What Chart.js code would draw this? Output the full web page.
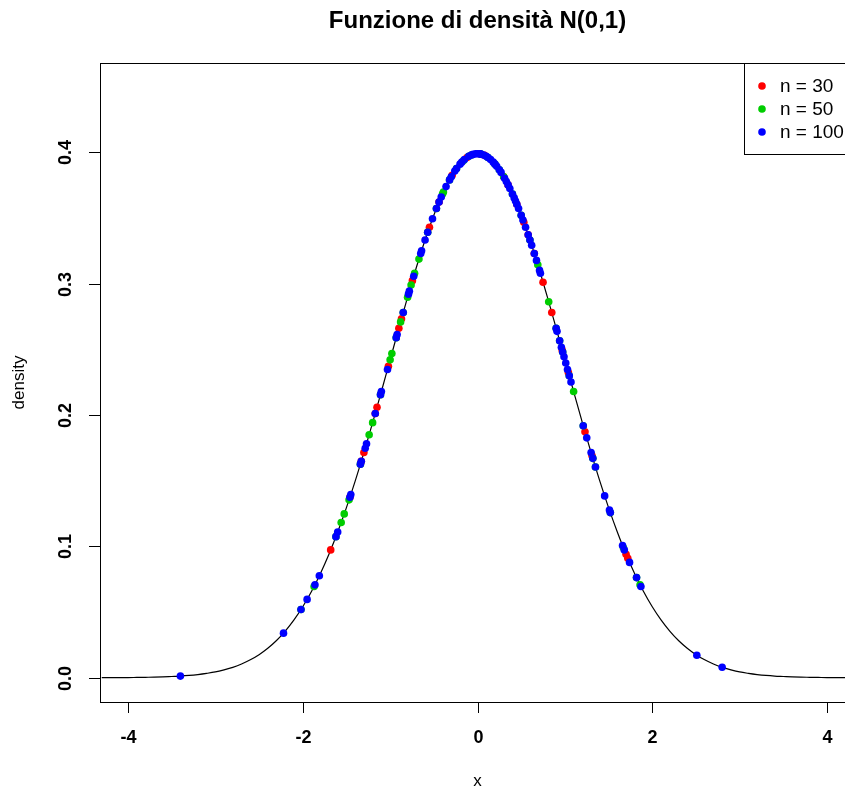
<!DOCTYPE html>
<html>
<head>
<meta charset="utf-8">
<script src="https://cdn.jsdelivr.net/npm/chart.js@4/dist/chart.umd.min.js"></script>
<style>
html,body{margin:0;padding:0;overflow:hidden;background:#fff;width:845px;height:791px;}
canvas{display:block;}
</style>
</head>
<body>
<canvas id="c" width="900" height="791" style="width:900px;height:791px"></canvas>
<script>
// ---- data ----
const titleText = "Funzione di densità N(0,1)";
const xTicks = [-4, -2, 0, 2, 4];
const yTicks = [0.0, 0.1, 0.2, 0.3, 0.4];
const yTickLabels = ["0.0", "0.1", "0.2", "0.3", "0.4"];
const legendLabels = ["n = 30", "n = 50", "n = 100"];

const curveX = [-4.3,-4.2,-4.1,-4.0,-3.9,-3.8,-3.7,-3.6,-3.5,-3.4,-3.3,-3.2,-3.1,-3.0,-2.9,-2.8,-2.7,-2.6,-2.5,-2.4,-2.3,-2.2,-2.1,-2.0,-1.9,-1.8,-1.7,-1.6,-1.5,-1.4,-1.3,-1.2,-1.1,-1.0,-0.9,-0.8,-0.7,-0.6,-0.5,-0.4,-0.3,-0.2,-0.1,0.0,0.1,0.2,0.3,0.4,0.5,0.6,0.7,0.8,0.9,1.0,1.1,1.2,1.3,1.4,1.5,1.6,1.7,1.8,1.9,2.0,2.1,2.2,2.3,2.4,2.5,2.6,2.7,2.8,2.9,3.0,3.1,3.2,3.3,3.4,3.5,3.6,3.7,3.8,3.9,4.0,4.1,4.2,4.3];
const curveY = [0.0000,0.0001,0.0001,0.0001,0.0002,0.0003,0.0004,0.0006,0.0009,0.0012,0.0017,0.0024,0.0033,0.0044,0.0060,0.0079,0.0104,0.0136,0.0175,0.0224,0.0283,0.0355,0.0440,0.0540,0.0656,0.0790,0.0940,0.1109,0.1295,0.1497,0.1714,0.1942,0.2179,0.2420,0.2661,0.2897,0.3123,0.3332,0.3521,0.3683,0.3814,0.3910,0.3970,0.3989,0.3970,0.3910,0.3814,0.3683,0.3521,0.3332,0.3123,0.2897,0.2661,0.2420,0.2179,0.1942,0.1714,0.1497,0.1295,0.1109,0.0940,0.0790,0.0656,0.0540,0.0440,0.0355,0.0283,0.0224,0.0175,0.0136,0.0104,0.0079,0.0060,0.0044,0.0033,0.0024,0.0017,0.0012,0.0009,0.0006,0.0004,0.0003,0.0002,0.0001,0.0001,0.0001,0.0000];

const n30X = [-1.68,-1.33,-1.30,-1.17,-1.15,-0.90,-0.87,-0.745,-0.44,-0.29,0.08,0.45,0.53,0.65,0.75,0.85,0.97,1.23,1.70,1.72,-1.46,-0.55,-0.12,0.02,0.35,1.04,1.31,0.58,-1.02,0.30];
const n30Y = [0.0973,0.1647,0.1714,0.2012,0.2059,0.2661,0.2733,0.3023,0.3621,0.3825,0.3977,0.3605,0.3467,0.3230,0.3011,0.2780,0.2492,0.1872,0.0940,0.0909,0.1374,0.3429,0.3961,0.3989,0.3752,0.2323,0.1691,0.3372,0.2371,0.3814];

const n50X = [-1.87,-1.56,-1.525,-1.47,-1.24,-1.20,-1.00,-0.98,-0.93,-0.88,-0.80,-0.76,-0.67,-0.40,-0.39,-0.24,-0.10,-0.07,0.20,0.30,0.60,0.815,0.94,0.975,1.10,1.32,1.86,-2.02,-1.62,-1.34,-1.11,-0.85,-0.57,-0.47,-0.32,-0.16,0.04,0.12,0.25,0.40,0.50,0.69,0.90,1.05,1.21,1.35,1.52,1.67,1.82,-0.72];
const n50Y = [0.0694,0.1182,0.1247,0.1354,0.1850,0.1942,0.2420,0.2468,0.2589,0.2709,0.2897,0.2989,0.3187,0.3683,0.3697,0.3876,0.3970,0.3980,0.3910,0.3814,0.3332,0.2862,0.2565,0.2480,0.2179,0.1670,0.0707,0.0519,0.1074,0.1626,0.2155,0.2780,0.3391,0.3572,0.3790,0.3938,0.3986,0.3961,0.3867,0.3683,0.3521,0.3144,0.2661,0.2299,0.1918,0.1604,0.1257,0.0989,0.0762,0.3079];

const n100X = [-3.40,-2.22,-2.02,-1.95,-1.86,-1.81,-1.62,-1.60,-1.46,-1.45,-1.34,-1.33,-1.285,-1.27,-1.11,-1.10,-1.03,-0.93,-0.92,-0.85,-0.79,-0.78,-0.73,-0.65,-0.64,-0.57,-0.515,-0.47,-0.44,-0.415,-0.32,-0.30,-0.26,-0.20,-0.18,-0.15,-0.10,-0.07,-0.05,-0.02,0.00,0.03,0.04,0.07,0.10,0.12,0.15,0.18,0.20,0.22,0.25,0.27,0.31,0.33,0.35,0.37,0.40,0.42,0.435,0.47,0.50,0.52,0.55,0.58,0.60,0.62,0.675,0.71,0.72,0.90,0.91,0.94,0.96,0.975,0.99,1.03,1.05,1.07,1.21,1.25,1.30,1.32,1.35,1.455,1.51,1.52,1.66,1.68,1.74,1.82,1.87,2.51,2.80,-0.60,-0.36,-0.24,0.45,0.65,-1.17,1.01];
const n100Y = [0.0012,0.0339,0.0519,0.0596,0.0707,0.0776,0.1074,0.1109,0.1374,0.1394,0.1626,0.1647,0.1747,0.1781,0.2155,0.2179,0.2347,0.2589,0.2613,0.2780,0.2920,0.2943,0.3056,0.3230,0.3251,0.3391,0.3494,0.3572,0.3621,0.3660,0.3790,0.3814,0.3857,0.3910,0.3925,0.3945,0.3970,0.3980,0.3984,0.3989,0.3989,0.3988,0.3986,0.3980,0.3970,0.3961,0.3945,0.3925,0.3910,0.3894,0.3867,0.3847,0.3802,0.3778,0.3752,0.3725,0.3683,0.3653,0.3629,0.3572,0.3521,0.3485,0.3429,0.3372,0.3332,0.3292,0.3177,0.3101,0.3079,0.2661,0.2637,0.2565,0.2516,0.2480,0.2444,0.2347,0.2299,0.2251,0.1918,0.1826,0.1714,0.1670,0.1604,0.1384,0.1276,0.1257,0.1006,0.0973,0.0878,0.0762,0.0694,0.0171,0.0079,0.3332,0.3739,0.3876,0.3605,0.3230,0.2012,0.2396];

const colors = ["#FF0000", "#00CD00", "#0000FF"];

function pts(xs, ys){ return xs.map((x,i)=>({x:x, y:ys[i]})); }

const FONT = '"Liberation Sans", Arial, sans-serif';

const rPlot = {
  id: 'rplot',
  afterDraw(chart){
    const ctx = chart.ctx, a = chart.chartArea;
    const sx = chart.scales.x, sy = chart.scales.y;
    ctx.save();
    ctx.strokeStyle = '#000'; ctx.fillStyle = '#000'; ctx.lineWidth = 1;
    // frame
    ctx.strokeRect(Math.round(a.left)+0.5, Math.round(a.top)+0.5, Math.round(a.right-a.left), Math.round(a.bottom-a.top));
    // title
    ctx.font = 'bold 24px ' + FONT;
    ctx.textAlign = 'center'; ctx.textBaseline = 'middle';
    ctx.fillText(titleText, (a.left+a.right)/2, 21);
    // x ticks
    ctx.font = 'bold 18px ' + FONT;
    xTicks.forEach(v=>{
      const px = Math.round(sx.getPixelForValue(v))+0.5;
      ctx.beginPath(); ctx.moveTo(px, a.bottom); ctx.lineTo(px, a.bottom+11); ctx.stroke();
      ctx.fillText(String(v), px, a.bottom+36);
    });
    // y ticks
    yTicks.forEach((v,i)=>{
      const py = Math.round(sy.getPixelForValue(v))+0.5;
      ctx.beginPath(); ctx.moveTo(a.left, py); ctx.lineTo(a.left-11, py); ctx.stroke();
      ctx.save(); ctx.translate(a.left-34, py); ctx.rotate(-Math.PI/2);
      ctx.fillText(yTickLabels[i], 0, 0); ctx.restore();
    });
    // axis titles
    ctx.font = '17px ' + FONT;
    ctx.fillText('x', (a.left+a.right)/2, 781);
    ctx.save(); ctx.translate(19, (a.top+a.bottom)/2); ctx.rotate(-Math.PI/2);
    ctx.fillText('density', 0, 0); ctx.restore();
    // legend
    const lx = 744, ly = a.top, lw = a.right - lx, lh = 91;
    ctx.fillStyle = '#fff'; ctx.fillRect(lx+0.5, ly+0.5, lw, lh);
    ctx.strokeRect(lx+0.5, ly+0.5, lw, lh);
    ctx.font = '19px ' + FONT; ctx.textAlign = 'left';
    legendLabels.forEach((t,i)=>{
      const yy = ly + 23 + i*23;
      ctx.fillStyle = colors[i];
      ctx.beginPath(); ctx.arc(762, yy, 3.8, 0, Math.PI*2); ctx.fill();
      ctx.fillStyle = '#000';
      ctx.fillText(t, 780, yy+1);
    });
    ctx.restore();
  }
};

new Chart(document.getElementById('c'), {
  type: 'scatter',
  data: {
    datasets: [
      {label:'n = 100', data: pts(n100X, n100Y), backgroundColor: colors[2], borderWidth:0, pointRadius:3.8, order:0},
      {label:'n = 50', data: pts(n50X, n50Y), backgroundColor: colors[1], borderWidth:0, pointRadius:3.8, order:1},
      {label:'n = 30', data: pts(n30X, n30Y), backgroundColor: colors[0], borderWidth:0, pointRadius:3.8, order:2},
      {label:'curve', type:'line', data: pts(curveX, curveY), showLine:true, borderColor:'#000', borderWidth:1.2, pointRadius:0, fill:false, cubicInterpolationMode:'monotone', order:3}
    ]
  },
  options: {
    responsive: false,
    animation: false,
    devicePixelRatio: 1,
    layout: { padding: { left: 100, top: 63, right: 45, bottom: 89 } },
    plugins: { legend: {display:false}, tooltip: {enabled:false}, title:{display:false} },
    scales: {
      x: { type:'linear', min:-4.32, max:4.32, display:false },
      y: { type:'linear', min:-0.0185, max:0.468, display:false }
    }
  },
  plugins: [rPlot]
});
</script>
</body>
</html>
